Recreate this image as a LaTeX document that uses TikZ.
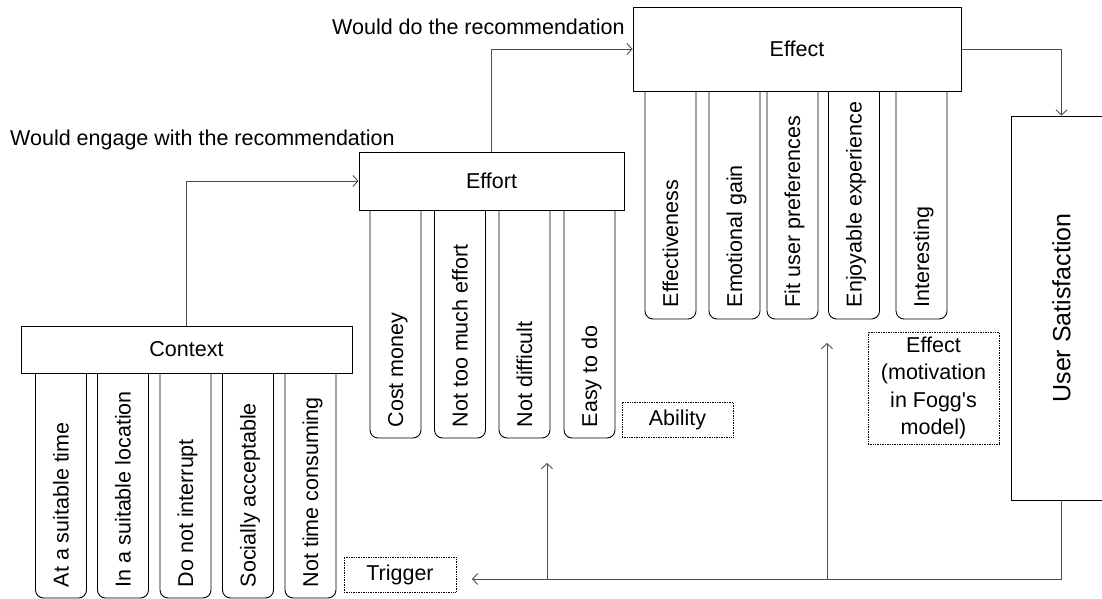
\documentclass[tikz,border=0pt]{standalone}
\usepackage{fontspec}
\setmainfont{Liberation Sans}
\usetikzlibrary{arrows.meta}
\begin{document}
\begin{tikzpicture}[x=1pt,y=-1pt,
  font=\fontsize{21.5}{27.5}\selectfont,
  box/.style={draw=black, line width=0.9pt, fill=white, inner sep=0pt},
  pillbox/.style={draw=black, line width=0.9pt, rounded corners=8pt, inner sep=0pt, minimum width=51pt},
  pilltext/.style={rotate=90, anchor=west, inner sep=0pt, text height=15.4pt, text depth=0pt},
  note/.style={draw=black, densely dotted, line width=0.7pt, align=center, inner sep=0pt},
  conn/.style={draw=black!70, line width=0.9pt},
  arr/.style={conn, -{Straight Barb[length=5pt,width=11pt]}},
]
\useasboundingbox (0,0) rectangle (1102,599);

% ---------- Context pills ----------
\foreach \cx/\t/\n in {61/At a suitable time/c1, 123/In a suitable location/c2, 185.5/Do not interrupt/c3, 248/Socially acceptable/c4, 310.5/Not time consuming/c5}{
  \node[pillbox, minimum height=249pt] (\n) at (\cx,473.5) {};
  \node[pilltext] (\n t) at ([yshift=11pt]\n.south) {\t};
}
% ---------- Effort pills ----------
\foreach \cx/\t/\n in {395.5/Cost money/e1, 460/Not too much effort/e2, 524.5/Not difficult/e3, 589.5/Easy to do/e4}{
  \node[pillbox, minimum height=257pt] (\n) at (\cx,309.5) {};
  \node[pilltext] (\n t) at ([yshift=11pt]\n.south) {\t};
}
% ---------- Effect pills ----------
\foreach \cx/\t/\n in {670.5/Effectiveness/f1, 734.5/Emotional gain/f2, 792.5/Fit user preferences/f3, 854/Enjoyable experience/f4, 921.5/Interesting/f5}{
  \node[pillbox, minimum height=270pt] (\n) at (\cx,184) {};
  \node[pilltext] (\n t) at ([yshift=12pt]\n.south) {\t};
}

% ---------- main boxes ----------
\node[box, minimum width=331pt, minimum height=47pt] (ctx) at (186.5,349.5) {Context};
\node[box, minimum width=265pt, minimum height=58pt] (eff) at (491.5,181) {Effort};
\node[box, minimum width=328pt, minimum height=84pt] (efc) at (797,49) {Effect};
\node[box, minimum width=101pt, minimum height=384pt] (us) at (1061.5,308) {};
\node[rotate=90, inner sep=0pt, font=\fontsize{25}{30}\selectfont] (ust) at (us.center) {User Satisfaction};

% ---------- notes ----------
\node[note, minimum width=112pt, minimum height=35pt] (trig) at (400,574.5) {Trigger};
\node[note, minimum width=111pt, minimum height=35pt] (abil) at (677.5,419.5) {Ability};
\node[note, minimum width=131pt, minimum height=112pt] (mot) at (933.5,388) {Effect\\(motivation\\in Fogg\textquotesingle s\\model)};

% ---------- labels ----------
\node[anchor=base west, inner sep=0pt] (lab1) at (10,146) {Would engage with the recommendation};
\node[anchor=base west, inner sep=0pt] (lab2) at (332,35) {Would do the recommendation};

% ---------- connectors ----------
\draw[arr] (ctx.north) |- (eff.west);
\draw[arr] (eff.north) |- (efc.west);
\draw[arr] (efc.east) -| (us.north);

\coordinate (fbend) at (472,579);
\coordinate (b1) at (827,579);
\coordinate (a1) at (827,343);
\coordinate (b2) at (547,579);
\coordinate (a2) at (547,463);
\draw[arr] (us.south) |- (fbend);
\draw[arr] (b1) -- (a1);
\draw[arr] (b2) -- (a2);
\end{tikzpicture}
\end{document}
